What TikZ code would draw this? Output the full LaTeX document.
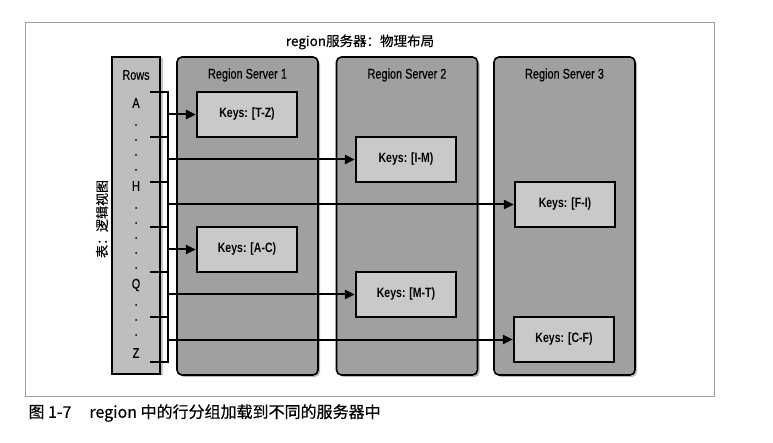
\documentclass[tikz,border=0pt]{standalone}
\usepackage{fontspec}
\setmainfont{Liberation Sans}
\newfontfamily\cond[FakeStretch=0.78,FakeBold=0.4]{Liberation Sans}
\newfontfamily\condb[FakeStretch=0.78]{Liberation Sans Bold}
\newfontfamily\cjk{Noto Sans CJK SC}
\newfontfamily\cjkb[FakeBold=0.5]{Noto Sans CJK SC}
\usetikzlibrary{arrows.meta,shadows}

\definecolor{srvgray}{HTML}{A0A0A0}
\definecolor{rowgray}{HTML}{BEBEBE}
\definecolor{keygray}{HTML}{C9C9C9}

\begin{document}
\begin{tikzpicture}[x=1pt,y=-1pt,
    lbl/.style={font=\cond\fontsize{14}{16}\selectfont},
    server/.style={draw,line width=1.6pt,rounded corners=5pt,fill=srvgray,
      minimum width=141pt,minimum height=318pt,
      drop shadow={shadow xshift=2pt,shadow yshift=-2pt,fill=black!55}},
    rowbox/.style={draw,line width=1.6pt,fill=rowgray,
      minimum width=48pt,minimum height=317pt,
      drop shadow={shadow xshift=3pt,shadow yshift=-1pt,fill=black!45}},
    keys/.style={draw,line width=2.2pt,fill=keygray,
      minimum width=100pt,minimum height=45pt,
      font=\condb\fontsize{13.5}{15}\selectfont},
    arr/.style={line width=2pt,-{Triangle[length=10pt,width=9pt]}},
    tick/.style={line width=2pt,line cap=rect}]
  \useasboundingbox (0,0) rectangle (773,443);

  % Cornice
  \draw[gray!75,line width=0.8pt] (25,22) rectangle (714,396);
  \node[font=\cjkb\fontsize{13.5}{15}\selectfont] (title) at (360,42) {region服务器：物理布局};
  \node[rotate=90,font=\cjkb\fontsize{13}{15}\selectfont] (side) at (102,219) {表：逻辑视图};

  % Server
  \node[server] (rs1) at (247.5,216) {};
  \node[server] (rs2) at (407,216) {};
  \node[server] (rs3) at (564.5,216) {};
  \foreach \n/\x in {1/247.5,2/407,3/564.5}
    \node[lbl] (rs\n t) at (\x,75) {Region Server \n};

  % Righe
  \node[rowbox] (rows) at (136,215.5) {};
  \node[lbl] (rowst) at (136,75) {Rows};
  \foreach \l/\y in {A/103,H/186,Q/285,Z/353}
    \node[lbl] (row\l) at (136,\y) {\l};
  \foreach \y in {125,140,155,170,208,223,238,253,268,305,320,335}
    \fill (136,\y) circle (1pt);

  % Regioni
  \node[keys] (tz) at (247,114.5) {Keys: [T-Z)};
  \node[keys] (im) at (406,159.5) {Keys: [I-M)};
  \node[keys] (fi) at (565,204.5) {Keys: [F-I)};
  \node[keys] (ac) at (247,249.5) {Keys: [A-C)};
  \node[keys] (mt) at (406,294.5) {Keys: [M-T)};
  \node[keys] (cf) at (564,339.5) {Keys: [C-F)};

  % Parentesi
  \coordinate (bar) at (168,92);
  \coordinate (barend) at (168,362);
  \draw[tick] (bar) -- (barend);
  \foreach \y in {92,137,...,362}
    \draw[tick] (151,\y) -- (168,\y);

  % Frecce
  \foreach \k in {tz,im,fi,ac,mt,cf}
    \draw[arr] (\k.west -| bar) -- (\k.west);

  % Didascalia
  \node[anchor=west,font=\cjkb\fontsize{16}{18}\selectfont] (cap) at (25,413)
    {图 1-7\hspace{18pt}region 中的行分组加载到不同的服务器中};
\end{tikzpicture}
\end{document}
